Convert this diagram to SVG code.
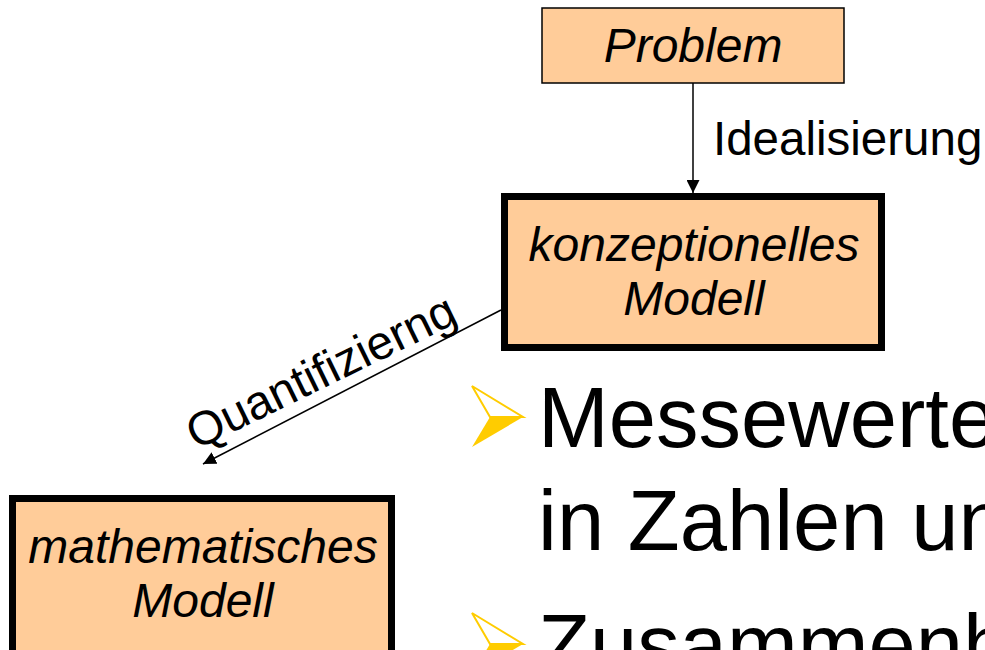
<svg xmlns="http://www.w3.org/2000/svg" width="985" height="650" viewBox="0 0 985 650">
  <defs>
    <style>
      .box { fill: #FFCC99; stroke: #000; }
      .thin { stroke-width: 1.5; }
      .thick { stroke-width: 7; }
      .node-text { font-family: "Liberation Sans", Arial, sans-serif; font-style: italic; font-size: 48px; fill: #000; text-anchor: middle; }
      .edge-label { font-family: "Liberation Sans", Arial, sans-serif; font-size: 47.5px; fill: #000; }
      .edge { stroke: #000; stroke-width: 1.5; fill: none; marker-end: url(#arrow); }
      .bullet-text { font-family: "Liberation Sans", Arial, sans-serif; font-size: 85px; fill: #000; }
      .bullet-outline { fill: #fff; stroke: #FFCC00; stroke-width: 2; stroke-linejoin: miter; }
      .bullet-fill { fill: #FFCC00; }
    </style>
    <marker id="arrow" markerUnits="userSpaceOnUse" markerWidth="13" markerHeight="13" refX="13" refY="6.5" orient="auto">
      <path d="M0,0 L13,6.5 L0,13 Z" fill="#000"/>
    </marker>
    <g id="bullet">
      <polygon class="bullet-outline" points="0,0 51,31 18,31"/>
      <polygon class="bullet-fill" points="18,31 51,31 0,61"/>
    </g>
  </defs>

  <rect width="985" height="650" fill="#fff"/>

  <!-- connectors -->
  <g id="connectors">
    <line class="edge" x1="693" y1="83" x2="693" y2="193"/>
    <text class="edge-label" x="713" y="155">Idealisierung</text>
    <line class="edge" x1="501" y1="310" x2="203" y2="464"/>
    <text class="edge-label" text-anchor="middle" transform="translate(328,386) rotate(-26)">Quantifizierng</text>
  </g>

  <!-- nodes -->
  <g id="problem">
    <rect class="box thin" x="542" y="8" width="302" height="75"/>
    <text class="node-text" x="693" y="62">Problem</text>
  </g>

  <g id="konzeptionelles-modell">
    <rect class="box thick" x="504.5" y="196.5" width="377" height="151"/>
    <text class="node-text" x="694" y="261">konzeptionelles</text>
    <text class="node-text" x="694" y="315">Modell</text>
  </g>

  <g id="mathematisches-modell">
    <rect class="box thick" x="12.5" y="498.5" width="379" height="200"/>
    <text class="node-text" x="203" y="563">mathematisches</text>
    <text class="node-text" x="203" y="617">Modell</text>
  </g>

  <!-- bullet list, running past the right edge -->
  <g id="bullets">
    <use href="#bullet" x="472" y="386"/>
    <text class="bullet-text" x="538" y="447">Messewerte</text>
    <text class="bullet-text" x="538" y="550">in Zahlen un</text>
    <use href="#bullet" x="472" y="613"/>
    <text class="bullet-text" x="538" y="674">Zusammenh</text>
  </g>
</svg>
